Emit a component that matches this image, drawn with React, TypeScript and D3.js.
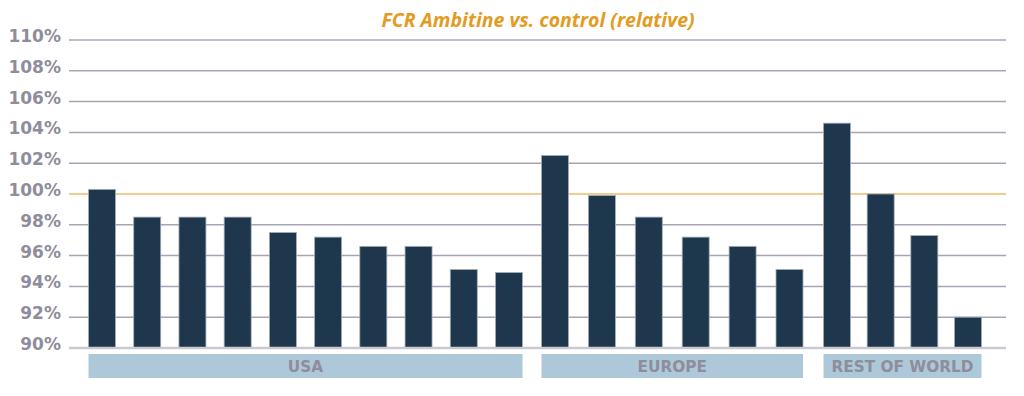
import React from 'react';
import * as d3 from 'd3';

// FCR relative to control
const groupNames = ['USA', 'EUROPE', 'REST OF WORLD'];
const usaValues = [100.3, 98.5, 98.5, 98.5, 97.5, 97.2, 96.6, 96.6, 95.1, 94.9];
const europeValues = [102.5, 99.9, 98.5, 97.2, 96.6, 95.1];
const rowValues = [104.6, 100.0, 97.3, 92.0];
const yTicks = [90, 92, 94, 96, 98, 100, 102, 104, 106, 108, 110];
const title = 'FCR Ambitine vs. control (relative)';

const width = 1024;
const height = 396;
const plot = { left: 69, right: 1006, top: 40, bottom: 348 };
// horizontal extent of each region block
const groupSpans: [number, number][] = [[88.5, 522.5], [541.5, 803], [823.5, 981.5]];
const barWidth = 27;

const colors = {
  bar: '#1f374d',
  barEdge: '#a3adbb',
  grid: '#a6a5b5',
  ref: '#f0cd8e',
  base: '#cbc8d2',
  label: '#8e8d9c',
  box: '#adc9d9',
  title: '#e39b22',
};

export default function App() {
  const y = d3.scaleLinear().domain([90, 110]).range([plot.bottom, plot.top]);
  const series = [usaValues, europeValues, rowValues];

  return (
    <svg width={width} height={height} style={{ position: 'absolute', left: 0, top: 0, background: '#fff' }}>
      <text x={538} y={27} textAnchor="middle" fill={colors.title}
        style={{ font: 'italic 700 19.5px "Open Sans", sans-serif' }}>{title}</text>

      {yTicks.map(t => (
        <g key={t}>
          {t !== 90 && t !== 100 && (
            <line x1={plot.left} x2={plot.right} y1={y(t)} y2={y(t)} stroke={colors.grid} strokeWidth={1.5} />
          )}
          <text x={61} y={y(t) + 2} textAnchor="end" fill={colors.label}
            style={{ font: 'bold 17px "DejaVu Sans", sans-serif' }}>{t}%</text>
        </g>
      ))}
      <line x1={plot.left} x2={plot.right} y1={y(100)} y2={y(100)} stroke={colors.ref} strokeWidth={2} />

      {series.map((vals, gi) => {
        const [a, b] = groupSpans[gi];
        const n = vals.length;
        const pad = ((b - a) - n * barWidth) / ((b - a) - barWidth);
        const x = d3.scaleBand<number>().domain(d3.range(n)).range([a, b]).paddingInner(pad).paddingOuter(0);
        return (
          <g key={groupNames[gi]}>
            {vals.map((v, i) => (
              <rect key={i} x={x(i)} y={y(v)} width={x.bandwidth()} height={y(90) - y(v)}
                fill={colors.bar} stroke={colors.barEdge} strokeWidth={0.8} />
            ))}
            <rect x={a} y={354} width={b - a} height={24} fill={colors.box} />
            <text x={(a + b) / 2} y={372} textAnchor="middle" fill={colors.label}
              style={{ font: 'bold 15.3px "DejaVu Sans", sans-serif' }}>{groupNames[gi]}</text>
          </g>
        );
      })}
      <line x1={plot.left} x2={plot.right} y1={y(90)} y2={y(90)} stroke={colors.base} strokeWidth={2.5} />
    </svg>
  );
}
